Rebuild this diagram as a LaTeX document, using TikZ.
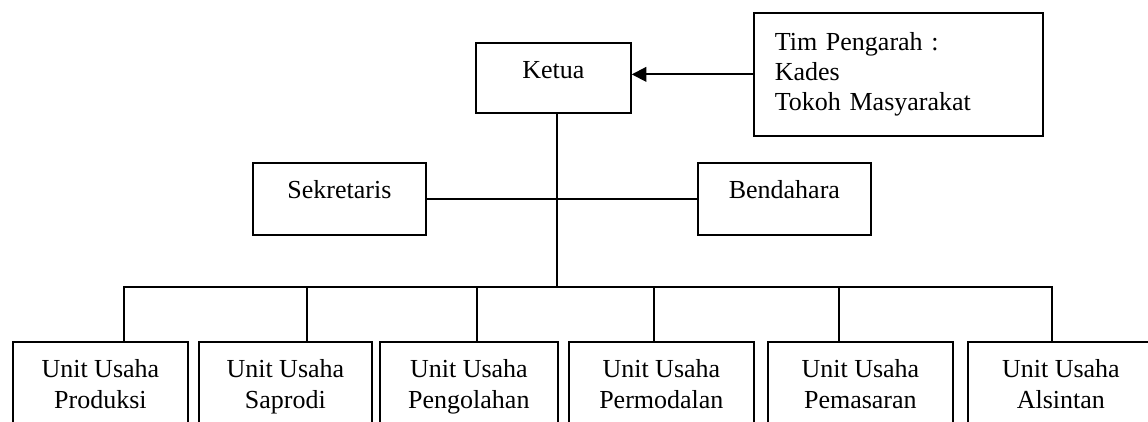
\documentclass[tikz,border=0pt]{standalone}
\usepackage{fontspec}
\setmainfont{Liberation Serif}
\usetikzlibrary{arrows.meta}
\begin{document}
\begin{tikzpicture}[x=0.75pt,y=-0.75pt,
  every node/.style={font=\fontsize{19.5pt}{23pt}\selectfont, inner sep=0pt, line width=1.3pt},
  box/.style={draw, anchor=north west, text height=27pt},
  unit/.style={draw, anchor=north west, align=center, text height=50pt, text depth=60pt},
  conn/.style={line width=1.5pt}]
\useasboundingbox (0,0) rectangle (1148,421);
\clip (0,0) rectangle (1148,421);
\node[box, minimum width=116.25pt, text depth=25.5pt] (ketua) at (475,42) {Ketua};
\node[box, minimum width=129.75pt, text depth=27pt] (sek) at (252,162) {Sekretaris};
\node[box, minimum width=129.75pt, text depth=27pt] (ben) at (697,162) {Bendahara};
\node[draw, anchor=north west, minimum width=216.75pt, minimum height=92.25pt, text width=185.25pt, align=left, inner xsep=15.75pt, font=\fontsize{19.5pt}{22.2pt}\selectfont] (tim) at (753,12) {Tim Pengarah :\\Kades\\Tokoh Masyarakat};
\node[unit, minimum width=131.25pt] (u1) at (12,341) {Unit Usaha\\Produksi};
\node[unit, minimum width=129.75pt] (u2) at (198,341) {Unit Usaha\\Saprodi};
\node[unit, minimum width=133.5pt] (u3) at (379,341) {Unit Usaha\\Pengolahan};
\node[unit, minimum width=138.75pt] (u4) at (568,341) {Unit Usaha\\Permodalan};
\node[unit, minimum width=138.75pt] (u5) at (767,341) {Unit Usaha\\Pemasaran};
\node[unit, minimum width=139.5pt] (u6) at (967,341) {Unit Usaha\\Alsintan};
\coordinate (hub) at (557,287);
\coordinate (d1) at (124,287);
\coordinate (d2) at (307,287);
\coordinate (d3) at (477,287);
\coordinate (d4) at (654,287);
\coordinate (d5) at (839,287);
\coordinate (d6) at (1052,287);
\draw[conn, -{Triangle[length=11pt,width=11pt]}] (tim.west) -- (tim.west -| ketua.east);
\draw[conn] (ketua.south -| hub) -- (hub);
\draw[conn] (sek.east) -- (ben.west);
\draw[conn, line cap=rect] (d1) -- (d6);
\draw[conn] (d1) -- (d1 |- u1.north);
\draw[conn] (d2) -- (d2 |- u2.north);
\draw[conn] (d3) -- (d3 |- u3.north);
\draw[conn] (d4) -- (d4 |- u4.north);
\draw[conn] (d5) -- (d5 |- u5.north);
\draw[conn] (d6) -- (d6 |- u6.north);
\end{tikzpicture}
\end{document}
